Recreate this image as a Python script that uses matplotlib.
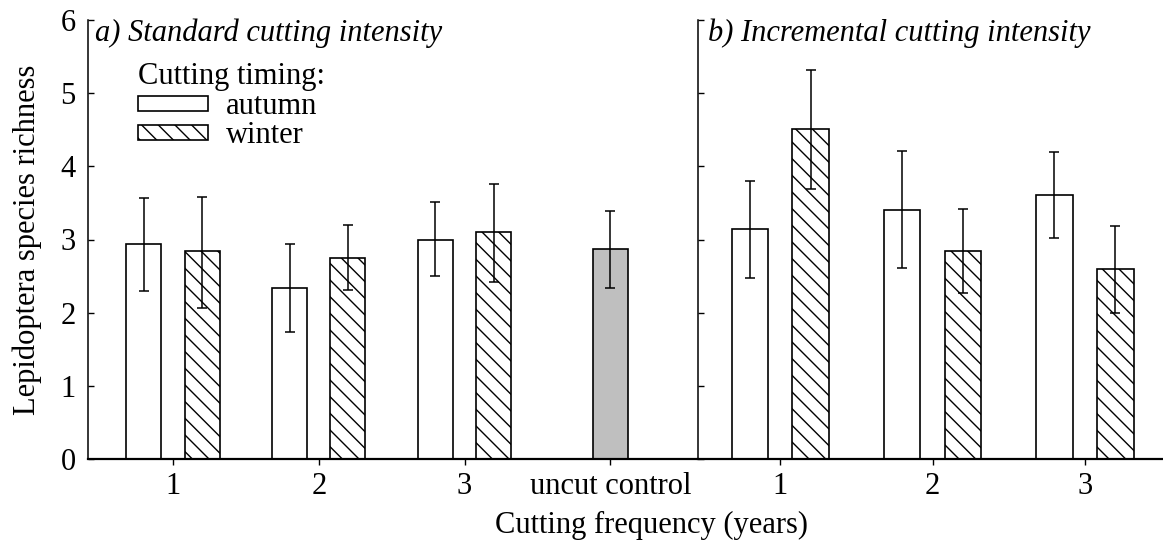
import matplotlib
matplotlib.use("Agg")
import matplotlib.pyplot as plt
import numpy as np
from matplotlib.patches import Patch

plt.rcParams['font.family'] = ['Liberation Serif', 'DejaVu Serif']
plt.rcParams['hatch.linewidth'] = 1.0

# ---- data ----
labels_a = ['1', '2', '3', 'uncut control']
labels_b = ['1', '2', '3']

autumn_a = [2.94, 2.34, 3.00]
autumn_a_lo = [2.30, 1.73, 2.50]
autumn_a_hi = [3.57, 2.94, 3.51]
winter_a = [2.84, 2.75, 3.10]
winter_a_lo = [2.07, 2.31, 2.42]
winter_a_hi = [3.58, 3.20, 3.76]
control = [2.87]
control_lo = [2.34]
control_hi = [3.39]

autumn_b = [3.14, 3.40, 3.61]
autumn_b_lo = [2.48, 2.61, 3.02]
autumn_b_hi = [3.80, 4.21, 4.19]
winter_b = [4.51, 2.84, 2.59]
winter_b_lo = [3.69, 2.27, 1.99]
winter_b_hi = [5.32, 3.42, 3.18]

FS = 22
fig = plt.figure(figsize=(11.63, 5.46), dpi=100)
axA = fig.add_axes([88/1163, 87/546, 610/1163, 439/546])
axB = fig.add_axes([698/1163, 87/546, 466/1163, 439/546])

bw = 0.24
off = 0.2
ekw = dict(ecolor='black', elinewidth=1.1, capsize=3.6, capthick=1.1)
barkw = dict(edgecolor='black', linewidth=1.2)

def errs(vals, lo, hi):
    v = np.array(vals); return [v - np.array(lo), np.array(hi) - v]

xa = np.arange(1, 4)
axA.bar(xa - off, autumn_a, bw, color='white', **barkw)
axA.bar(xa + off, winter_a, bw, color='white', hatch='\\\\', **barkw)
axA.bar([4], control, bw, color='#bfbfbf', **barkw)
axA.errorbar(xa - off, autumn_a, yerr=errs(autumn_a, autumn_a_lo, autumn_a_hi), fmt='none', **ekw)
axA.errorbar(xa + off, winter_a, yerr=errs(winter_a, winter_a_lo, winter_a_hi), fmt='none', **ekw)
axA.errorbar([4], control, yerr=errs(control, control_lo, control_hi), fmt='none', **ekw)

xb = np.arange(1, 4)
axB.bar(xb - off, autumn_b, bw, color='white', **barkw)
axB.bar(xb + off, winter_b, bw, color='white', hatch='\\\\', **barkw)
axB.errorbar(xb - off, autumn_b, yerr=errs(autumn_b, autumn_b_lo, autumn_b_hi), fmt='none', **ekw)
axB.errorbar(xb + off, winter_b, yerr=errs(winter_b, winter_b_lo, winter_b_hi), fmt='none', **ekw)

axA.set_xlim(0.418, 4.6)
axB.set_xlim(0.46, 3.52)
for ax in (axA, axB):
    ax.set_ylim(0, 6)
    ax.set_yticks(range(0, 7))
    ax.spines['top'].set_visible(False)
    ax.spines['right'].set_visible(False)
    ax.spines['bottom'].set_linewidth(1.6)
    ax.spines['left'].set_linewidth(1.1)
    ax.tick_params(axis='y', direction='in', length=4, width=1.0, labelsize=FS, pad=9)
    ax.tick_params(axis='x', direction='out', length=4, width=1.0, labelsize=FS, pad=5)
    ax.patch.set_alpha(0)

axA.set_xticks(range(1, 5))
axA.set_xticklabels(labels_a)
axB.set_xticks(range(1, 4))
axB.set_xticklabels(labels_b)
axB.tick_params(axis='y', labelleft=False)

axA.set_ylabel('Lepidoptera species richness', fontsize=FS, labelpad=13)
fig.text(0.5602, 0.023, 'Cutting frequency (years)', fontsize=FS, ha='center', va='baseline')

axA.text(0.0115, 0.952, 'a) Standard cutting intensity', transform=axA.transAxes,
         fontsize=FS, style='italic', va='baseline', ha='left')
axB.text(0.0215, 0.952, 'b) Incremental cutting intensity', transform=axB.transAxes,
         fontsize=FS, style='italic', va='baseline', ha='left')

handles = [Patch(facecolor='white', edgecolor='black', linewidth=1.2, label='autumn'),
           Patch(facecolor='white', edgecolor='black', linewidth=1.2, hatch='\\\\', label='winter')]
leg = axA.legend(handles=handles, title='Cutting timing:', loc='upper left',
                 bbox_to_anchor=(0.082, 0.905), frameon=False, fontsize=FS, title_fontsize=FS,
                 handlelength=2.29, handleheight=0.39, handletextpad=0.59, labelspacing=0.0,
                 alignment='left', borderaxespad=0, borderpad=0)
leg._legend_box.sep = 1

fig.savefig('out.png', dpi=100)
